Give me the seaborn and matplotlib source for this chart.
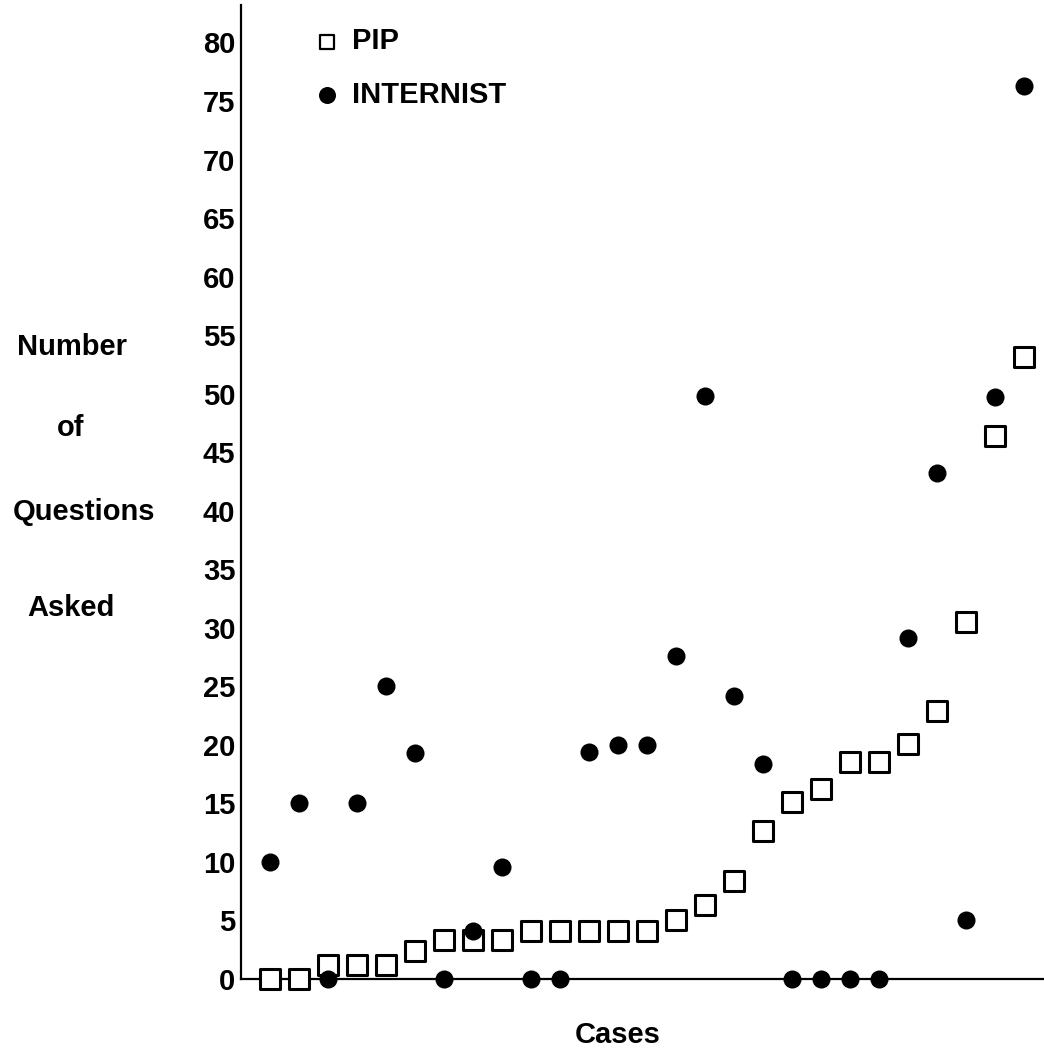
import numpy as np
import pandas as pd
import seaborn as sns
import matplotlib.pyplot as plt
from matplotlib.transforms import blended_transform_factory

# cases in order (x is just the case index)
cases = list(range(27))

pip = [0, 0, 1.2, 1.2, 1.2, 2.4, 3.3, 3.3, 3.3, 4.1, 4.1, 4.1, 4.1, 4.1,
       5.0, 6.3, 8.4, 12.6, 15.1, 16.2, 18.5, 18.5, 20.1, 22.9, 30.5, 46.4, 53.1]
internist = [10.0, 15.0, 0, 15.0, 25.0, 19.3, 0, 4.1, 9.6, 0, 0, 19.4, 20.0, 20.0,
             27.6, 49.8, 24.2, 18.4, 0, 0, 0, 0, 29.1, 43.2, 5.0, 49.7, 76.3]

yticks = list(range(0, 85, 5))
ylabel_lines = ['Number', 'of', 'Questions', 'Asked']
ylabel_pos = [54.0, 47.1, 39.9, 31.7]
ylabel_x = [72, 71, 84, 71]

df = pd.DataFrame({'case': cases, 'PIP': pip, 'INTERNIST': internist})

sns.set_style('white', rc={'text.color': 'black', 'axes.labelcolor': 'black',
                           'xtick.color': 'black', 'ytick.color': 'black'})
plt.rcParams['font.family'] = ['Liberation Sans', 'DejaVu Sans']

W, H = 1044, 1054
fig = plt.figure(figsize=(W / 100, H / 100), dpi=100)
ax = fig.add_axes([241 / W, (H - 979) / H, (W - 241) / W, (979 - 5) / H])

sns.scatterplot(data=df, x='case', y='PIP', ax=ax, marker='s', s=14.5 ** 2,
                facecolor='white', edgecolor='black', linewidth=2.2,
                clip_on=False, zorder=3, label='PIP')
sns.scatterplot(data=df, x='case', y='INTERNIST', ax=ax, marker='o', s=13 ** 2,
                color='black', edgecolor='black', linewidth=0,
                clip_on=False, zorder=4, label='INTERNIST')

ax.set_xlim(-1.0, 26.7)
ax.set_ylim(0, 83.2)
ax.set_yticks(yticks)
ax.set_yticklabels([str(t) for t in yticks], fontsize=21, fontweight='bold')
ax.tick_params(axis='y', length=0, pad=4)
ax.set_xticks([])
ax.set_ylabel('')
ax.set_xlabel('Cases', fontsize=21, fontweight='bold', labelpad=30,
              x=(618 - 241) / (W - 241))

for side in ['top', 'right']:
    ax.spines[side].set_visible(False)
for side in ['left', 'bottom']:
    ax.spines[side].set_linewidth(1.6)
    ax.spines[side].set_color('black')

# stacked y-axis label, one word per line
tr = blended_transform_factory(fig.transFigure, ax.transData)
for word, yv, xp in zip(ylabel_lines, ylabel_pos, ylabel_x):
    fig.text(xp / W, yv, word, transform=tr, ha='center', va='center',
             fontsize=21, fontweight='bold')

leg = ax.legend(loc='upper left', bbox_to_anchor=(54 / (W - 241), 0.995),
                frameon=False, fontsize=21, handletextpad=0.35,
                labelspacing=0.88, handlelength=1.0, borderaxespad=0.2)
leg.legend_handles[0].set_sizes([95])
leg.legend_handles[0].set_linewidth(1.6)
leg.legend_handles[1].set_sizes([150])
for t in leg.get_texts():
    t.set_fontweight('bold')

fig.savefig('out.png', dpi=100)
